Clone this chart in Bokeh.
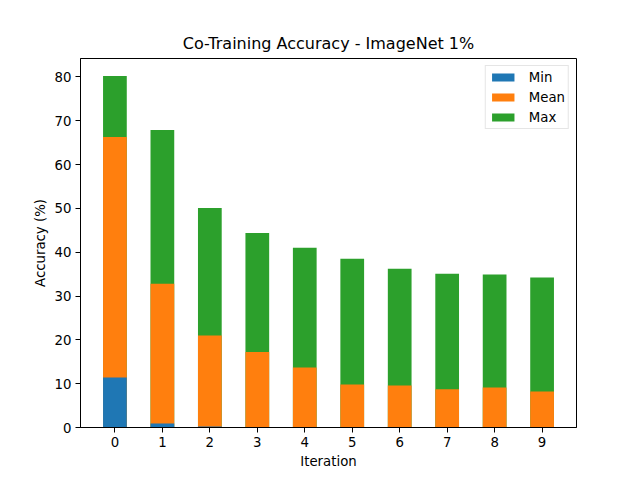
from bokeh.plotting import figure
from bokeh.models import ColumnDataSource, Legend, LegendItem, FixedTicker, Range1d
from bokeh.embed import file_html
from bokeh.resources import INLINE

iterations = [0, 1, 2, 3, 4, 5, 6, 7, 8, 9]
acc_min = [11.4, 0.9, 0.25, 0.0, 0.0, 0.0, 0.0, 0.0, 0.0, 0.0]
acc_mean = [66.3, 32.8, 21.0, 17.2, 13.7, 9.8, 9.6, 8.7, 9.1, 8.2]
acc_max = [80.2, 67.9, 50.1, 44.4, 41.0, 38.5, 36.2, 35.1, 34.9, 34.2]

src = ColumnDataSource(dict(x=iterations, mn=acc_min, mean=acc_mean, mx=acc_max))

FONT = "DejaVu Sans"

p = figure(width=640, height=480, output_backend="svg", toolbar_location=None,
           x_range=Range1d(-0.725, 9.725), y_range=Range1d(0, 84.2),
           title="Co-Training Accuracy - ImageNet 1%")
p.min_border_left = 80
p.min_border_right = 64
p.min_border_top = 58
p.min_border_bottom = 53
p.frame_width = 496
p.frame_height = 369

r_max = p.vbar(x="x", top="mx", width=0.5, source=src, fill_color="#2ca02c", line_color=None)
r_mean = p.vbar(x="x", top="mean", width=0.5, source=src, fill_color="#ff7f0e", line_color=None)
r_min = p.vbar(x="x", top="mn", width=0.5, source=src, fill_color="#1f77b4", line_color=None)

legend = Legend(items=[LegendItem(label="Min", renderers=[r_min]),
                       LegendItem(label="Mean", renderers=[r_mean]),
                       LegendItem(label="Max", renderers=[r_max])],
                location="top_right")
legend.margin = 7
legend.padding = 3
legend.spacing = 4
legend.label_height = 16
legend.glyph_height = 10
legend.glyph_width = 28
legend.label_standoff = 12
legend.label_text_font = FONT
legend.label_text_font_size = "13.3px"
legend.label_text_color = "#000000"
legend.border_line_color = "#cccccc"
legend.background_fill_alpha = 0.8
p.add_layout(legend)

p.title.align = "center"
p.title.text_font = FONT
p.title.text_font_size = "16px"
p.title.text_font_style = "normal"
p.title.text_color = "#000000"
p.title.standoff = 11

p.xgrid.visible = False
p.ygrid.visible = False
p.outline_line_color = "#000000"
p.outline_line_alpha = 1.0

p.xaxis.ticker = FixedTicker(ticks=iterations)
p.yaxis.ticker = FixedTicker(ticks=[0, 10, 20, 30, 40, 50, 60, 70, 80])
p.xaxis.axis_label = "Iteration"
p.yaxis.axis_label = "Accuracy (%)"
for ax in (p.xaxis, p.yaxis):
    ax.axis_line_color = "#000000"
    ax.major_tick_line_color = "#000000"
    ax.major_tick_out = 5
    ax.major_tick_in = 0
    ax.minor_tick_line_color = None
    ax.major_label_text_font = FONT
    ax.major_label_text_font_size = "13.3px"
    ax.major_label_text_color = "#000000"
    ax.axis_label_text_font = FONT
    ax.axis_label_text_font_size = "13.3px"
    ax.axis_label_text_font_style = "normal"
    ax.axis_label_text_color = "#000000"
    ax.major_label_standoff = 4
    ax.axis_label_standoff = 4

open("out.html", "w").write(file_html(p, INLINE))
